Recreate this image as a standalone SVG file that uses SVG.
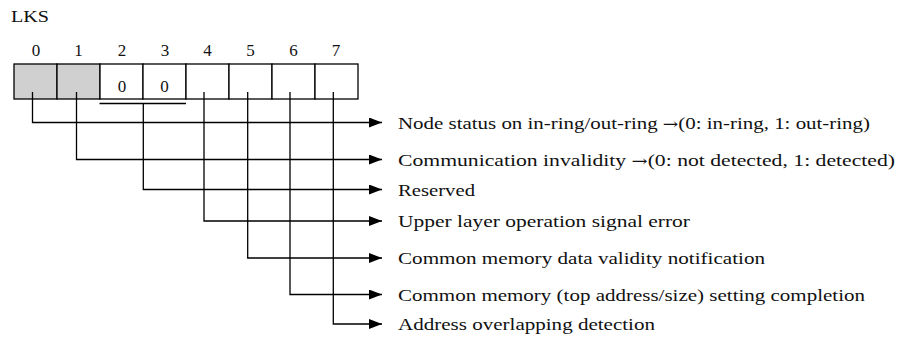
<svg xmlns="http://www.w3.org/2000/svg" width="897" height="341" viewBox="0 0 897 341">
<defs>
<marker id="arr" markerWidth="13" markerHeight="10" refX="13" refY="5" orient="auto" markerUnits="userSpaceOnUse">
<path d="M0,0 L13,5 L0,10 Z" fill="#000"/>
</marker>
<style>
text{font-family:"Liberation Serif","Times New Roman",serif;fill:#111}
.t{font-size:17px}
.a{font-family:"DejaVu Serif",serif;font-size:15px}
.n{font-size:17px;text-anchor:middle}
.cell{fill:#fff;stroke:#000;stroke-width:1.3}
.g{fill:#d0d0d0}
.c{fill:none;stroke:#000;stroke-width:1.3}
</style>
</defs>
<rect width="897" height="341" fill="#fff"/>
<g id="title"><text x="11" y="22" class="t" textLength="38" lengthAdjust="spacingAndGlyphs">LKS</text></g>
<g id="register">
<rect class="cell g" x="14" y="64" width="43" height="35"/>
<rect class="cell g" x="57" y="64" width="43" height="35"/>
<rect class="cell" x="100" y="64" width="43" height="35"/>
<rect class="cell" x="143" y="64" width="43" height="35"/>
<rect class="cell" x="186" y="64" width="43" height="35"/>
<rect class="cell" x="229" y="64" width="43" height="35"/>
<rect class="cell" x="272" y="64" width="43" height="35"/>
<rect class="cell" x="315" y="64" width="43" height="35"/>
<text class="n" x="36" y="56">0</text>
<text class="n" x="78.5" y="56">1</text>
<text class="n" x="122" y="56">2</text>
<text class="n" x="165" y="56">3</text>
<text class="n" x="207.5" y="56">4</text>
<text class="n" x="250.5" y="56">5</text>
<text class="n" x="293.5" y="56">6</text>
<text class="n" x="336" y="56">7</text>
<text class="n" x="122" y="92">0</text>
<text class="n" x="164.5" y="92">0</text>
</g>
<g id="connectors">
<path class="c" d="M99.5,103.5 H186"/>
<path class="c" d="M32.5,92 V122.5 H382" marker-end="url(#arr)"/>
<path class="c" d="M76.5,92 V159.5 H382" marker-end="url(#arr)"/>
<path class="c" d="M143.3,103.5 V189.5 H382" marker-end="url(#arr)"/>
<path class="c" d="M204,92 V221 H382" marker-end="url(#arr)"/>
<path class="c" d="M247.7,92 V258 H382" marker-end="url(#arr)"/>
<path class="c" d="M290,92 V294.5 H382" marker-end="url(#arr)"/>
<path class="c" d="M333.3,92 V324 H382" marker-end="url(#arr)"/>
</g>
<g id="d0"><text class="t" x="398" y="128.5" textLength="472" lengthAdjust="spacingAndGlyphs">Node status on in-ring/out-ring <tspan class="a">→</tspan>(0: in-ring, 1: out-ring)</text></g>
<g id="d1"><text class="t" x="398" y="165.5" textLength="497" lengthAdjust="spacingAndGlyphs">Communication invalidity <tspan class="a">→</tspan>(0: not detected, 1: detected)</text></g>
<g id="d2"><text class="t" x="398" y="195.5" textLength="77" lengthAdjust="spacingAndGlyphs">Reserved</text></g>
<g id="d4"><text class="t" x="398" y="227" textLength="292" lengthAdjust="spacingAndGlyphs">Upper layer operation signal error</text></g>
<g id="d5"><text class="t" x="398" y="264" textLength="367" lengthAdjust="spacingAndGlyphs">Common memory data validity notification</text></g>
<g id="d6"><text class="t" x="398" y="300.5" textLength="467" lengthAdjust="spacingAndGlyphs">Common memory (top address/size) setting completion</text></g>
<g id="d7"><text class="t" x="398" y="330" textLength="257" lengthAdjust="spacingAndGlyphs">Address overlapping detection</text></g>
</svg>
